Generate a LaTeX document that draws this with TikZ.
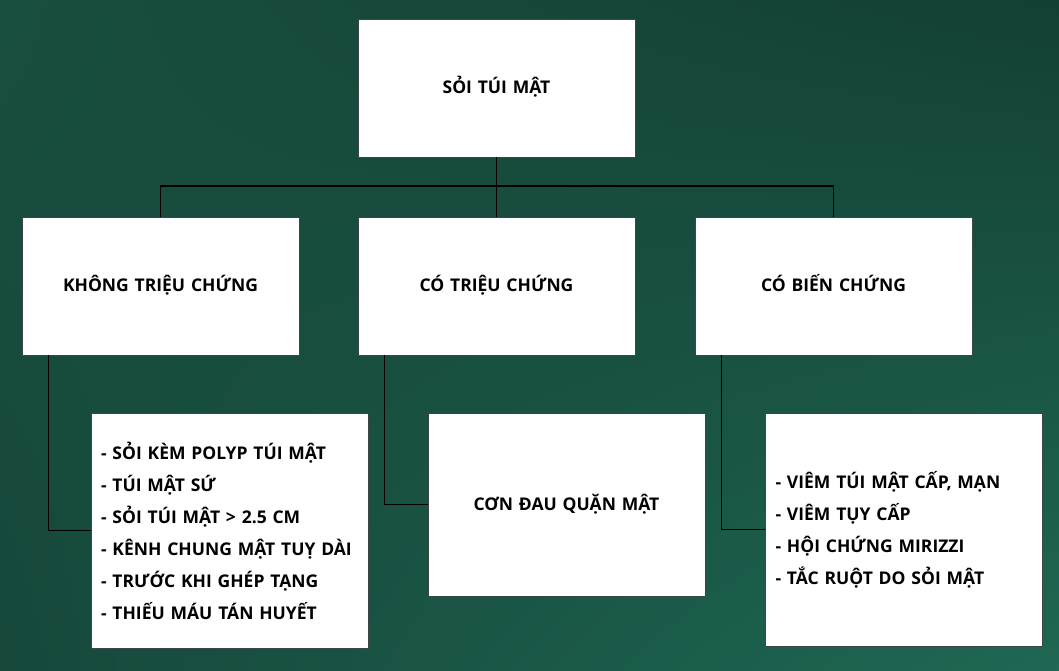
\documentclass[tikz,border=0pt]{standalone}
\usepackage{fontspec}
\setmainfont{Open Sans}
\definecolor{BgTL}{RGB}{24, 78, 63}
\definecolor{BgTR}{RGB}{19, 64, 52}
\definecolor{BgBL}{RGB}{22, 72, 60}
\definecolor{BgBR}{RGB}{31, 104, 84}
\definecolor{BoxLine}{RGB}{60, 70, 66}
\usetikzlibrary{positioning, calc, shadings}

\begin{document}
\begin{tikzpicture}[x=1pt, y=-1pt,
    card/.style={draw=BoxLine, line width=0.8pt, fill=white, inner xsep=10pt, inner ysep=0pt,
        text width=257pt, minimum height=138pt, font=\fontsize{17.5}{32}\selectfont\bfseries},
    titlecard/.style={card, align=center, text height=13pt, text depth=2pt},
    listcard/.style={card, align=left},
    link/.style={draw=black, line width=1.1pt}]
    % background
    \shade[upper left=BgTL, upper right=BgTR, lower left=BgBL, lower right=BgBR]
        (0,670) rectangle (1059,0);
    \useasboundingbox (0,0) rectangle (1059,670);

    % top level
    \node[titlecard] (root) at (496.5,88) {SỎI TÚI MẬT};

    % second level
    \node[titlecard] (kt) at (160.5,286) {KHÔNG TRIỆU CHỨNG};
    \node[titlecard] (ct) at (496.5,286) {CÓ TRIỆU CHỨNG};
    \node[titlecard] (bc) at (833.5,286) {CÓ BIẾN CHỨNG};

    % third level
    \node[listcard, minimum height=235pt] (l1) at (229.5,530.5) {- SỎI KÈM POLYP TÚI MẬT\\
        - TÚI MẬT SỨ\\
        - SỎI TÚI MẬT > 2.5 CM\\
        - KÊNH CHUNG MẬT TUỴ DÀI\\
        - TRƯỚC KHI GHÉP TẠNG\\
        - THIẾU MÁU TÁN HUYẾT};
    \node[titlecard, minimum height=183pt] (l2) at (566.5,504.5) {CƠN ĐAU QUẶN MẬT};
    \node[listcard, minimum height=233pt] (l3) at (904,529.5) {- VIÊM TÚI MẬT CẤP, MẠN\\
        - VIÊM TỤY CẤP\\
        - HỘI CHỨNG MIRIZZI\\
        - TẮC RUỘT DO SỎI MẬT};

    % connectors
    \coordinate (bus) at (496.5,186);
    \draw[link] (root.south) -- (bus);
    \draw[link] (kt.north) |- (bus) -| (bc.north);
    \draw[link] (bus) -- (ct.north);
    \draw[link] ([xshift=27pt]kt.south west) |- (l1.west);
    \draw[link] ([xshift=27pt]ct.south west) |- (l2.west);
    \draw[link] ([xshift=27pt]bc.south west) |- (l3.west);
\end{tikzpicture}
\end{document}
